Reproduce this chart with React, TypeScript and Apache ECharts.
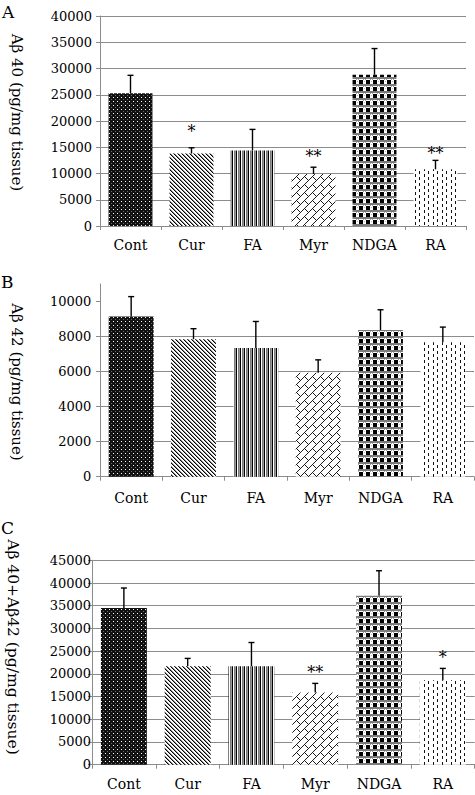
import React, { useEffect, useRef } from 'react';
import * as echarts from 'echarts';

const categories = ['Cont', 'Cur', 'FA', 'Myr', 'NDGA', 'RA'];

const ab40Means = [25300, 13800, 14400, 9900, 28800, 10800];
const ab40ErrTops = [28700, 14900, 18400, 11200, 33800, 12500];
const ab40Sig = ['', '*', '', '**', '', '**'];
const ab40SigAt = [null, 18700, null, 14000, null, 14500];

const ab42Means = [9150, 7850, 7340, 5930, 8370, 7680];
const ab42ErrTops = [10280, 8450, 8860, 6670, 9530, 8540];
const ab42Sig = ['', '', '', '', '', ''];
const ab42SigAt = [null, null, null, null, null, null];

const totalMeans = [34500, 21700, 21700, 15900, 37200, 18600];
const totalErrTops = [38900, 23400, 26900, 17900, 42700, 21200];
const totalSig = ['', '', '', '**', '', '*'];
const totalSigAt = [null, null, null, 21200, null, 24500];

const panelLetters = ['A', 'B', 'C'];
const yTitles = ['Aβ 40 (pg/mg tissue)', 'Aβ 42 (pg/mg tissue)', 'Aβ 40+Aβ42 (pg/mg tissue)'];
const yMax = [40000, 11000, 45000];
const yInterval = [5000, 2000, 5000];

const FONT = '"DejaVu Serif", "Liberation Serif", serif';
const GRID_COLOR = '#8c8c8c';

function tile(w: number, h: number, draw: (p: (x: number, y: number, c: string, ww?: number, hh?: number) => void) => void) {
  const c = document.createElement('canvas');
  c.width = w;
  c.height = h;
  const ctx = c.getContext('2d')!;
  ctx.fillStyle = '#ffffff';
  ctx.fillRect(0, 0, w, h);
  draw((x, y, col, ww = 1, hh = 1) => {
    ctx.fillStyle = col;
    ctx.fillRect(((x % w) + w) % w, ((y % h) + h) % h, ww, hh);
  });
  return c;
}

function makePatterns() {
  const cont = tile(4, 4, (p) => {
    p(0, 0, '#111', 4, 4);
    p(1, 1, '#ffffff');
    p(3, 3, '#6a6a6a');
  });
  const cur = tile(4, 4, (p) => {
    for (let i = 0; i < 4; i++) {
      p(i, i, '#000');
      p(i + 1, i, '#888');
    }
  });
  const fa = tile(4, 1, (p) => {
    p(0, 0, '#000');
    p(2, 0, '#7a7a7a');
    p(3, 0, '#9a9a9a');
  });
  const myr = tile(16, 16, (p) => {
    for (let x = 0; x < 16; x++) {
      for (let y = 0; y < 16; y++) {
        const s = x + y;
        const d = (((x - y) % 16) + 16) % 16;
        const band = Math.floor(s / 8);
        if (s % 8 === 0) p(x, y, '#1a1a1a');
        else if (band % 2 === 0 && d === 0) p(x, y, '#1a1a1a');
        else if (band % 2 === 1 && d === 8) p(x, y, '#1a1a1a');
      }
    }
  });
  const ndga = tile(7, 7, (p) => {
    p(0, 0, '#7c7c7c', 7, 2);
    p(2, 3, '#000', 4, 4);
    p(1, 2, '#999');
    p(6, 2, '#999');
    p(0, 4, '#bbb');
  });
  const ra = tile(9, 6, (p) => {
    p(1, 0, '#111', 1, 3);
    p(5, 3, '#111', 1, 3);
  });
  return [cont, cur, fa, myr, ndga, ra].map((img) => ({ image: img, repeat: 'repeat' }));
}

export default function App() {
  const ref = useRef<HTMLDivElement>(null);

  useEffect(() => {
    if (!ref.current) return;
    const chart = echarts.init(ref.current, undefined, { renderer: 'svg' });
    const patterns = makePatterns();

    const grids = [
      { left: 100, top: 16, width: 366, height: 210 },
      { left: 100, top: 284, width: 374, height: 192.7 },
      { left: 92, top: 560.3, width: 382.7, height: 204.4 },
    ];
    const labelMargins = [8, 8.7, 1];
    const catMargins = [12, 14, 12];
    const panels = [
      { means: ab40Means, errs: ab40ErrTops, sig: ab40Sig, sigAt: ab40SigAt },
      { means: ab42Means, errs: ab42ErrTops, sig: ab42Sig, sigAt: ab42SigAt },
      { means: totalMeans, errs: totalErrTops, sig: totalSig, sigAt: totalSigAt },
    ];

    const xAxis = grids.map((_, i) => ({
      type: 'category',
      gridIndex: i,
      data: categories,
      axisLine: { lineStyle: { color: GRID_COLOR, width: 1 } },
      axisTick: { show: true, length: 4, alignWithLabel: false, lineStyle: { color: GRID_COLOR } },
      axisLabel: { color: '#000', fontFamily: FONT, fontSize: 14, margin: catMargins[i] },
    }));

    const yAxis = grids.map((_, i) => {
      const ticks: number[] = [];
      for (let v = 0; v <= yMax[i]; v += yInterval[i]) ticks.push(v);
      return {
        type: 'value',
        gridIndex: i,
        min: 0,
        max: yMax[i],
        interval: yInterval[i],
        axisLine: { show: true, lineStyle: { color: GRID_COLOR, width: 1 } },
        axisTick: { show: true, length: 4, lineStyle: { color: GRID_COLOR }, customValues: ticks },
        axisLabel: {
          color: '#000',
          fontFamily: FONT,
          fontSize: 13,
          margin: labelMargins[i],
          showMaxLabel: i === 1 ? false : true,
          formatter: (v: number) => String(v),
        },
        splitLine: { show: true, showMaxLine: i === 1 ? false : true, lineStyle: { color: GRID_COLOR, width: 1 } },
      };
    });

    const series: any[] = [];
    panels.forEach((pd, gi) => {
      series.push({
        type: 'bar',
        xAxisIndex: gi,
        yAxisIndex: gi,
        barWidth: '72%',
        data: pd.means.map((v, i) => ({ value: v, itemStyle: { color: patterns[i] } })),
        z: 2,
      });
      series.push({
        type: 'custom',
        xAxisIndex: gi,
        yAxisIndex: gi,
        z: 5,
        data: pd.means.map((v, i) => [i, v, pd.errs[i], pd.sigAt[i] == null ? 0 : pd.sigAt[i]]),
        encode: { x: 0, y: 2 },
        renderItem: (params: any, api: any) => {
          const idx = params.dataIndex;
          const i = api.value(0);
          const base = api.coord([i, api.value(1)]);
          const top = api.coord([i, api.value(2)]);
          const children: any[] = [
            { type: 'line', shape: { x1: base[0], y1: base[1], x2: top[0], y2: top[1] }, style: { stroke: '#000', lineWidth: 1.4 } },
            { type: 'line', shape: { x1: top[0] - 3, y1: top[1], x2: top[0] + 3, y2: top[1] }, style: { stroke: '#000', lineWidth: 1.4 } },
          ];
          const s = pd.sig[idx];
          if (s) {
            const sp = api.coord([i, api.value(3)]);
            children.push({
              type: 'text',
              x: sp[0],
              y: sp[1] + 4,
              style: { text: s, fontFamily: FONT, fontSize: 16, fill: '#000', align: 'center', verticalAlign: 'middle' },
            });
          }
          return { type: 'group', children };
        },
      });
    });

    const titleCenters = [
      { x: 17, y: 112.5, size: 15 },
      { x: 17, y: 382, size: 15 },
      { x: 12.5, y: 647, size: 15.5 },
    ];
    const letterPos = [
      { x: 2, y: 3 },
      { x: 1, y: 273 },
      { x: 1, y: 519 },
    ];

    const graphic: any[] = [];
    titleCenters.forEach((t, i) => {
      graphic.push({
        type: 'text',
        x: t.x,
        y: t.y,
        rotation: -Math.PI / 2,
        style: { text: yTitles[i], fontFamily: FONT, fontSize: t.size, fill: '#000', align: 'center', verticalAlign: 'middle' },
      });
    });
    letterPos.forEach((p, i) => {
      graphic.push({
        type: 'text',
        x: p.x,
        y: p.y,
        style: { text: panelLetters[i], fontFamily: FONT, fontSize: 17, fill: '#000', align: 'left', verticalAlign: 'top' },
      });
    });

    chart.setOption({
      animation: false,
      backgroundColor: '#ffffff',
      grid: grids,
      xAxis,
      yAxis,
      series,
      graphic,
    });

    return () => chart.dispose();
  }, []);

  return <div ref={ref} style={{ position: 'absolute', left: 0, top: 0, width: 475, height: 795 }} />;
}
